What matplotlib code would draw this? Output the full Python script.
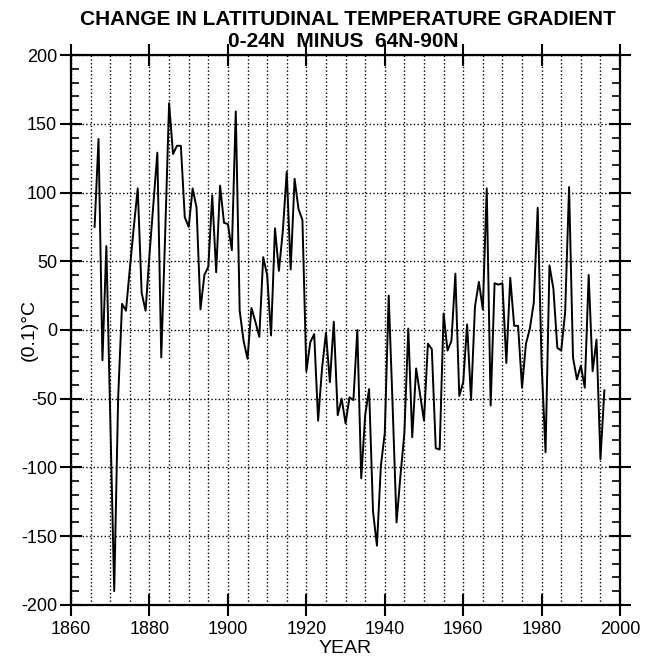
import matplotlib
matplotlib.use("Agg")
import matplotlib.pyplot as plt
from matplotlib.ticker import MultipleLocator

# annual values, units of 0.1 C
years = list(range(1866, 1997))
gradient = [
    75, 139, -22, 61, -65, -190, -50, 19, 14, 45,
    75, 103, 27, 14, 55, 92, 129, -20, 70, 165,
    128, 134, 134, 82, 75, 103, 89, 15, 40, 46,
    98, 42, 105, 78, 77, 58, 159, 14, -8, -21,
    16, 6, -5, 53, 40, -4, 74, 43, 72, 115,
    44, 110, 88, 80, -30, -9, -3, -66, -28, -2,
    -38, 6, -62, -50, -68, -49, -51, 0, -108, -62,
    -43, -132, -157, -99, -75, 25, -55, -140, -106, -75,
    1, -78, -28, -47, -66, -10, -14, -86, -87, 12,
    -15, -8, 41, -48, -38, 4, -51, 17, 35, 15,
    103, -55, 34, 33, 34, -24, 38, 3, 3, -42,
    -10, 1, 20, 89, -25, -89, 47, 30, -13, -15,
    13, 104, -20, -36, -26, -42, 40, -30, -7, -94,
    -44,
]

title_lines = ["CHANGE IN LATITUDINAL TEMPERATURE GRADIENT", "0-24N  MINUS  64N-90N"]

plt.rcParams['font.family'] = ['Liberation Sans', 'DejaVu Sans']
plt.rcParams['axes.unicode_minus'] = False

fig = plt.figure(figsize=(6.52, 6.56), dpi=100)
ax = fig.add_axes([0.109, 0.078, 0.842, 0.838])

ax.plot(years, gradient, color="black", linewidth=1.4)

ax.set_xlim(1860, 2000)
ax.set_ylim(-200, 200)
ax.xaxis.set_major_locator(MultipleLocator(20))
ax.xaxis.set_minor_locator(MultipleLocator(5))
ax.yaxis.set_major_locator(MultipleLocator(50))
ax.yaxis.set_minor_locator(MultipleLocator(10))

ax.xaxis.grid(True, which="both", linestyle=":", color="black", linewidth=1.0)
ax.yaxis.grid(True, which="major", linestyle=":", color="black", linewidth=1.0)

ax.tick_params(axis="x", which="major", direction="inout", length=16, width=1.5,
               top=True, labelsize=13, pad=4)
ax.tick_params(axis="x", which="minor", length=0, top=True)
ax.tick_params(axis="y", which="major", direction="inout", length=16, width=1.5,
               right=True, labelsize=13, pad=2)
ax.tick_params(axis="y", which="minor", direction="in", length=6, width=1.2, right=True)

for side in ax.spines.values():
    side.set_linewidth(1.6)

fig.text(0.534, 0.971, title_lines[0], ha="center", va="center",
         fontsize=15, fontweight="bold")
fig.text(0.526, 0.937, title_lines[1], ha="center", va="center",
         fontsize=15, fontweight="bold")

fig.text(0.529, 0.012, "YEAR", ha="center", va="center", fontsize=14)
fig.text(0.045, 0.497, "(0.1)°C", ha="center", va="center", fontsize=14, rotation=90)

fig.savefig("out.png", dpi=100)
